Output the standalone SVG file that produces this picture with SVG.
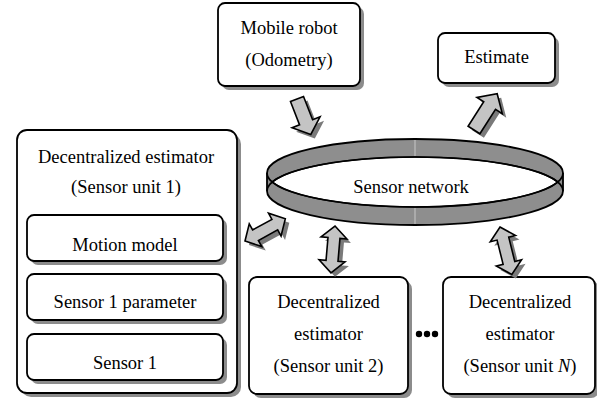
<svg xmlns="http://www.w3.org/2000/svg" xmlns:xlink="http://www.w3.org/1999/xlink" width="597" height="398" viewBox="0 0 597 398">
  <style>
    .box { fill: #ffffff; stroke: #000000; stroke-width: 1.8; }
    .shadow { fill: #8c8c8c; stroke: none; }
    .label { font-family: "Liberation Serif", "Times New Roman", serif; font-size: 18.5px; fill: #000000; text-anchor: middle; }
    .arrow { fill: #c4c4c4; stroke: #000000; stroke-width: 1.6; stroke-linejoin: miter; }
    .arrow-shadow { fill: #7a7a7a; stroke: none; }
    .band { fill: #8e8e8e; stroke: #000000; stroke-width: 1.8; }
    .edge { fill: none; stroke: #000000; stroke-width: 1.6; }
    .seam { stroke: #c8c8c8; stroke-width: 1; }
  </style>
  <defs>
    <!-- single-headed block arrows, pointing along +x -->
    <path id="single38" d="M0,-7 H25 V-15 L38,0 L25,15 V7 H0 Z"/>
    <path id="single43" d="M0,-7 H29 V-15 L43,0 L29,15 V7 H0 Z"/>
    <!-- double-headed block arrows, pointing along +x -->
    <path id="double46" d="M0,0 L12,-13 V-6 H34 V-13 L46,0 L34,13 V6 H12 V13 Z"/>
    <path id="double47" d="M0,0 L12,-13 V-6 H35 V-13 L47,0 L35,13 V6 H12 V13 Z"/>
    <path id="double49" d="M0,0 L12,-13 V-6 H37 V-13 L49,0 L37,13 V6 H12 V13 Z"/>
  </defs>

  <!-- sensor network ring -->
  <g id="sensor-network">
    <path class="band" d="M267,173 A148,34 0 0,1 563,173 V191 A148,34 0 0,1 267,191 Z"/>
    <path fill="#ffffff" stroke="#000000" stroke-width="1.6" d="M272.3,182 A148,34 0 0,1 557.7,182 A148,34 0 0,1 272.3,182 Z"/>
    <path class="edge" d="M267,173 A148,34 0 0,0 563,173"/>
    <path class="edge" d="M267,191 A148,34 0 0,1 563,191"/>
    <line class="seam" x1="415" y1="140" x2="415" y2="156"/>
    <line class="seam" x1="415" y1="208" x2="415" y2="224"/>
    <text class="label" x="411" y="193">Sensor network</text>
  </g>

  <!-- mobile robot -->
  <g id="mobile-robot">
    <rect class="shadow" x="222" y="7" width="142" height="83" rx="7"/>
    <rect class="box" x="218" y="3" width="142" height="83" rx="7"/>
    <text class="label" x="289" y="34">Mobile robot</text>
    <text class="label" x="289" y="66">(Odometry)</text>
  </g>

  <!-- estimate -->
  <g id="estimate">
    <rect class="shadow" x="442" y="37" width="117" height="50" rx="7"/>
    <rect class="box" x="438" y="33" width="117" height="50" rx="7"/>
    <text class="label" x="496.5" y="63">Estimate</text>
  </g>

  <!-- decentralized estimator, sensor unit 1 -->
  <g id="estimator-unit-1">
    <rect class="shadow" x="21" y="134" width="220" height="263" rx="10"/>
    <rect class="box" x="17" y="130" width="220" height="263" rx="10"/>
    <text class="label" x="126" y="163">Decentralized estimator</text>
    <text class="label" x="126" y="193">(Sensor unit 1)</text>
    <g id="motion-model">
      <rect class="shadow" x="31" y="219" width="196" height="46" rx="7"/>
      <rect class="box" x="27" y="215" width="196" height="46" rx="7"/>
      <text class="label" x="125" y="251">Motion model</text>
    </g>
    <g id="sensor-1-parameter">
      <rect class="shadow" x="31" y="278" width="196" height="46" rx="7"/>
      <rect class="box" x="27" y="274" width="196" height="46" rx="7"/>
      <text class="label" x="125" y="308">Sensor 1 parameter</text>
    </g>
    <g id="sensor-1">
      <rect class="shadow" x="31" y="338" width="196" height="46" rx="7"/>
      <rect class="box" x="27" y="334" width="196" height="46" rx="7"/>
      <text class="label" x="125" y="369">Sensor 1</text>
    </g>
  </g>

  <!-- decentralized estimator, sensor unit 2 -->
  <g id="estimator-unit-2">
    <rect class="shadow" x="253" y="281" width="159" height="117" rx="8"/>
    <rect class="box" x="249" y="277" width="159" height="117" rx="8"/>
    <text class="label" x="328.5" y="308">Decentralized</text>
    <text class="label" x="328.5" y="340">estimator</text>
    <text class="label" x="328.5" y="372">(Sensor unit 2)</text>
  </g>

  <!-- ellipsis between units -->
  <g id="ellipsis">
    <circle cx="419" cy="334" r="3.2"/>
    <circle cx="427" cy="334" r="3.2"/>
    <circle cx="435" cy="334" r="3.2"/>
  </g>

  <!-- decentralized estimator, sensor unit N -->
  <g id="estimator-unit-n">
    <rect class="shadow" x="447" y="281" width="152" height="117" rx="8"/>
    <rect class="box" x="443" y="277" width="152" height="117" rx="8"/>
    <text class="label" x="520" y="308">Decentralized</text>
    <text class="label" x="520" y="340">estimator</text>
    <text class="label" x="520" y="372">(Sensor unit <tspan font-style="italic">N</tspan>)</text>
  </g>

  <!-- block-arrow connectors -->
  <g id="connectors">
    <g transform="translate(297,99) rotate(68.7)">
      <use xlink:href="#single38" class="arrow-shadow" transform="rotate(-68.7) translate(4,4) rotate(68.7)"/>
      <use xlink:href="#single38" class="arrow"/>
    </g>
    <g transform="translate(474,130) rotate(-57.4)">
      <use xlink:href="#single43" class="arrow-shadow" transform="rotate(57.4) translate(4,4) rotate(-57.4)"/>
      <use xlink:href="#single43" class="arrow"/>
    </g>
    <g transform="translate(245,241) rotate(-28.8)">
      <use xlink:href="#double46" class="arrow-shadow" transform="rotate(28.8) translate(4,4) rotate(-28.8)"/>
      <use xlink:href="#double46" class="arrow"/>
    </g>
    <g transform="translate(335,226) rotate(94.9)">
      <use xlink:href="#double47" class="arrow-shadow" transform="rotate(-94.9) translate(4,4) rotate(94.9)"/>
      <use xlink:href="#double47" class="arrow"/>
    </g>
    <g transform="translate(500,227) rotate(76)">
      <use xlink:href="#double49" class="arrow-shadow" transform="rotate(-76) translate(4,4) rotate(76)"/>
      <use xlink:href="#double49" class="arrow"/>
    </g>
  </g>
</svg>
